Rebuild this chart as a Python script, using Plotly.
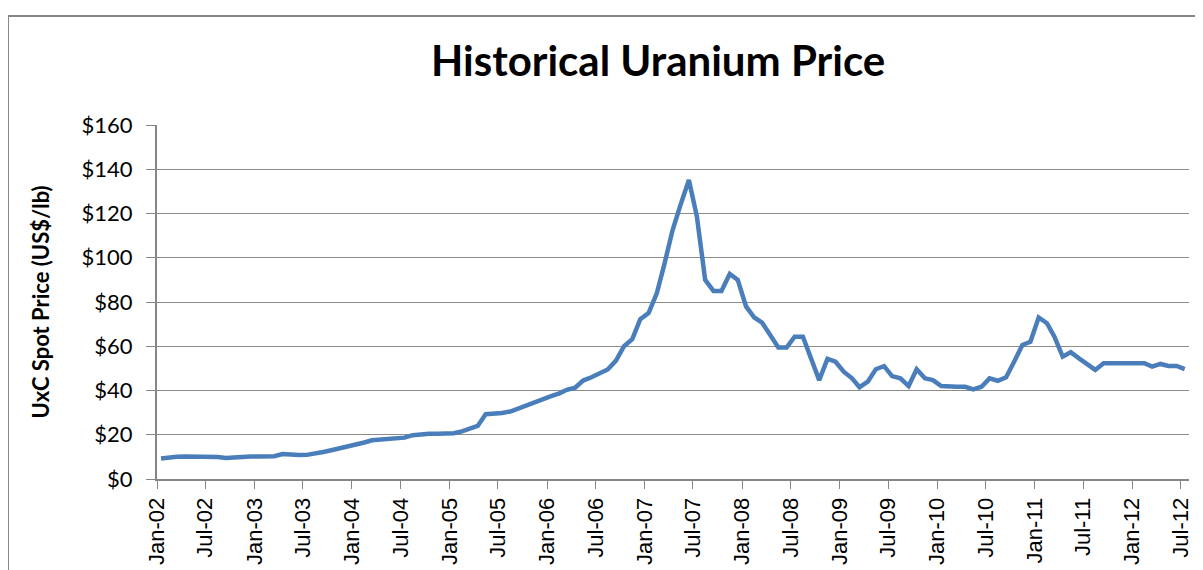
import plotly.graph_objects as go
import pandas as pd

# Monthly UxC spot price, Jan-2002 .. Jul-2012 (US$/lb)
price_2002 = [9.3, 9.9, 10.1, 10.2, 10.2, 10.1, 10.0, 9.9, 9.5, 9.8, 10.2, 10.2]
price_2003 = [10.2, 10.2, 10.3, 11.3, 10.9, 10.8, 10.9, 11.4, 12.2, 13.0, 13.8, 14.6]
price_2004 = [15.6, 16.5, 17.5, 17.7, 18.1, 18.4, 18.7, 19.8, 20.4, 20.5, 20.5, 20.5]
price_2005 = [20.7, 21.5, 22.5, 24.0, 29.3, 29.3, 29.8, 30.5, 32.0, 33.5, 35.0, 36.3]
price_2006 = [37.5, 38.7, 40.3, 41.3, 44.5, 46.0, 47.5, 49.5, 53.5, 60.0, 63.2, 72.2]
price_2007 = [75.0, 84.0, 97.0, 112.5, 124.0, 135.1, 118.6, 90.0, 85.0, 85.0, 92.7, 90.0]
price_2008 = [78.0, 73.0, 70.7, 65.0, 59.4, 59.4, 64.3, 64.3, 53.8, 44.7, 54.3, 53.0]
price_2009 = [48.5, 45.5, 41.5, 44.0, 49.6, 51.0, 46.5, 45.5, 42.0, 49.6, 45.5, 44.7]
price_2010 = [42.0, 41.7, 41.7, 41.7, 40.5, 41.7, 45.5, 44.4, 46.0, 53.0, 60.6, 62.0]
price_2011 = [73.0, 70.4, 64.3, 55.3, 57.3, 54.5, 52.0, 49.3, 52.3, 52.3, 52.3, 52.3]
price_2012 = [52.3, 52.3, 50.8, 52.0, 51.1, 51.1, 49.7]

price = (price_2002 + price_2003 + price_2004 + price_2005 + price_2006 + price_2007
         + price_2008 + price_2009 + price_2010 + price_2011 + price_2012)

months = pd.date_range("2002-01-01", periods=len(price), freq="MS") + pd.Timedelta(days=15)

tick_dates = ["2002-01-01", "2002-07-01", "2003-01-01", "2003-07-01", "2004-01-01", "2004-07-01",
              "2005-01-01", "2005-07-01", "2006-01-01", "2006-07-01", "2007-01-01", "2007-07-01",
              "2008-01-01", "2008-07-01", "2009-01-01", "2009-07-01", "2010-01-01", "2010-07-01",
              "2011-01-01", "2011-07-01", "2012-01-01", "2012-07-01"]
tick_labels = ["Jan-02", "Jul-02", "Jan-03", "Jul-03", "Jan-04", "Jul-04",
               "Jan-05", "Jul-05", "Jan-06", "Jul-06", "Jan-07", "Jul-07",
               "Jan-08", "Jul-08", "Jan-09", "Jul-09", "Jan-10", "Jul-10",
               "Jan-11", "Jul-11", "Jan-12", "Jul-12"]

title_text = "Historical Uranium Price"
y_title = "UxC Spot Price (US$/lb)"

fig = go.Figure(go.Scatter(x=months, y=price, mode="lines",
                           line=dict(color="#4A7EBB", width=4.5), showlegend=False))

axis_grey = "#868686"
fig.update_layout(
    width=1203, height=570,
    margin=dict(l=149, r=22, t=117, b=99),
    paper_bgcolor="white", plot_bgcolor="white",
    xaxis=dict(type="date", range=["2002-01-01", "2012-08-01"],
               tickvals=tick_dates, ticktext=tick_labels, tickangle=-90,
               ticks="outside", ticklen=8, tickcolor=axis_grey, tickwidth=1,
               showline=True, linecolor=axis_grey, linewidth=2, showgrid=False,
               tickfont=dict(family="Liberation Sans", size=22, color="black")),
    yaxis=dict(range=[0, 160], dtick=20, tickprefix="$",
               showgrid=True, gridcolor="#8c8c8c", gridwidth=1, zeroline=False,
               showline=True, linecolor=axis_grey, linewidth=2,
               ticks="outside", ticklen=9, tickcolor=axis_grey, tickwidth=1,
               ticklabelstandoff=9,
               tickfont=dict(family="Lato", size=22, color="black")),
    shapes=[dict(type="rect", xref="paper", yref="paper",
                 x0=-0.1444, x1=1.04, y0=-0.40, y1=1.308,
                 line=dict(color=axis_grey, width=2), fillcolor="rgba(0,0,0,0)", layer="below")],
    annotations=[
        dict(text="<b>" + title_text + "</b>", xref="paper", yref="paper",
             x=0.485, y=1.185, xanchor="center", yanchor="middle", showarrow=False,
             font=dict(family="Lato", size=42, color="black")),
        dict(text="<b>" + y_title + "</b>", xref="paper", yref="paper",
             x=-0.113, y=0.5, xanchor="center", yanchor="middle", showarrow=False,
             textangle=-90, font=dict(family="Lato", size=22, color="black")),
    ],
)

fig.write_html("out.html")
